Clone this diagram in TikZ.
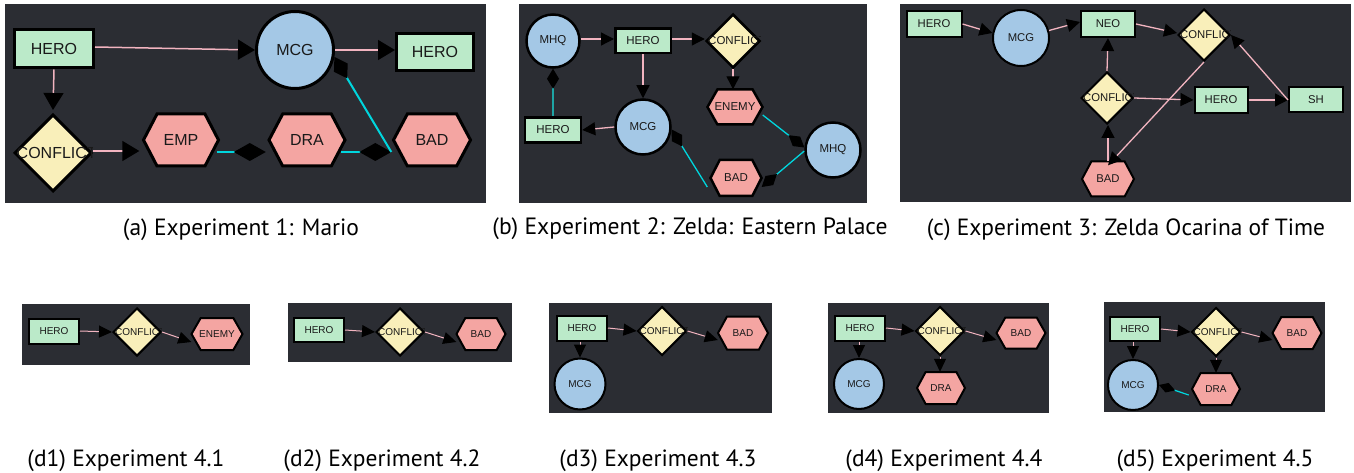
\documentclass[tikz,border=0pt]{standalone}
\usepackage{fontspec}
\usepackage{graphicx}
\newfontfamily\nodefont{Liberation Sans}
\newfontfamily\capfont{PT Sans}
\usetikzlibrary{shapes.geometric,arrows.meta}
\definecolor{bgc}{RGB}{43,45,51}
\definecolor{herog}{RGB}{187,234,201}
\definecolor{circb}{RGB}{164,200,230}
\definecolor{confy}{RGB}{249,239,186}
\definecolor{hexr}{RGB}{244,165,162}
\definecolor{pinkl}{RGB}{242,180,192}
\definecolor{cyanl}{RGB}{0,214,222}
\definecolor{tealc}{RGB}{30,165,165}
\definecolor{txt}{RGB}{25,25,25}
\tikzset{
  bw/.style={line width=2pt},
  lab/.style={font=\nodefont\fontsize{10}{10}\selectfont,text=txt},
  herob/.style={rectangle,draw=black,fill=herog,lab,inner sep=0pt,bw},
  circsty/.style={circle,draw=black,fill=circb,lab,inner sep=0pt,bw},
  confsty/.style={diamond,aspect=1,draw=black,fill=confy,inner sep=0pt,bw},
  hexsty/.style={draw=black,fill=hexr,bw},
  panel/.style={fill=bgc},
  capt/.style={inner sep=0pt,anchor=base,text=black},
  pk/.style={draw=pinkl,line width=1pt,-{Triangle[length=13pt,width=12pt,color=black]}},
  cy/.style={draw=cyanl,line width=1.2pt,-{Diamond[length=17pt,width=10pt,color=black]}},
}
\newcommand\hexnode[6]{%
  \draw[hexsty] ({#2-#4/2},#3) -- ({#2-0.32*#4},{#3-#5/2}) -- ({#2+0.32*#4},{#3-#5/2})
    -- ({#2+#4/2},#3) -- ({#2+0.32*#4},{#3+#5/2}) -- ({#2-0.32*#4},{#3+#5/2}) -- cycle;
  \node[lab,minimum width=#4pt,minimum height=#5pt,inner sep=0pt] (#1) at (#2,#3) {#6};}
\newcommand\confnode[4]{%
  \node[confsty,minimum width=#4pt,minimum height=#4pt] (#1) at (#2,#3) {};
  \begin{scope}
    \clip ({#2-#4/2-2},{#3-#4/2}) rectangle ({#2+#4/2+0.5},{#3+#4/2});
    \node[lab,anchor=west,inner sep=0pt] at ({#2-#4/2+2},#3) {CONFLICT};
  \end{scope}}
\begin{document}
\begin{tikzpicture}[x=1pt,y=-1pt]
\useasboundingbox (0,0) rectangle (1354,473);
\fill[white] (0,0) rectangle (1354,473);

% ---------------- (a)
\begin{scope}[bw/.style={line width=3pt},
  lab/.style={font=\nodefont\fontsize{16}{16}\selectfont,text=txt},
  pk/.style={draw=pinkl,line width=1.5pt,-{Triangle[length=17pt,width=20pt,color=black]}},
  cy/.style={draw=cyanl,line width=2pt,-{Diamond[length=32pt,width=18pt,color=black]}}]
\fill[panel] (5,4) rectangle (486,203);
\node[herob,minimum width=79pt,minimum height=38pt] (ah1) at (54,49) {HERO};
\node[circsty,minimum size=77pt] (amcg) at (295,50) {MCG};
\node[herob,minimum width=77pt,minimum height=37pt] (ah2) at (435,52) {HERO};
\confnode{aconf}{53}{153}{77}
\hexnode{aemp}{181}{140}{75}{52}{EMP}
\hexnode{adra}{307}{140}{76}{52}{DRA}
\hexnode{abad}{432}{140}{77}{52}{BAD}
\draw[pk] ([yshift=2pt]ah1.east) -- (amcg.west);
\draw[pk] (amcg.east) -- ([yshift=2pt]ah2.west);
\draw[pk] (ah1.south) -- ([yshift=3pt]aconf.north);
\draw[pk] ([yshift=2pt]aconf.east) -- ([xshift=-4pt,yshift=-11pt]aemp.west);
\draw[cy] ([xshift=-2pt,yshift=-12pt]aemp.east) -- ([xshift=-3pt,yshift=-12pt]adra.west);
\draw[cy] ([xshift=-4pt,yshift=-12pt]adra.east) -- ([xshift=-2pt,yshift=-12pt]abad.west);
\draw[cy,-{Diamond[length=25pt,width=16pt,color=black]}] ([xshift=-2pt,yshift=-12pt]abad.west) -- (amcg.-10);
\end{scope}

% ---------------- (b)
\begin{scope}[bw/.style={line width=2.5pt},
  lab/.style={font=\nodefont\fontsize{11.5}{11.5}\selectfont,text=txt},
  pk/.style={draw=pinkl,line width=1.3pt,-{Triangle[length=13pt,width=13pt,color=black]}},
  cy/.style={draw=cyanl,line width=1.3pt,-{Diamond[length=20pt,width=12pt,color=black]}}]
\fill[panel] (519,4) rectangle (867,203);
\node[circsty,minimum size=53pt] (bmhq1) at (553,41) {MHQ};
\node[herob,minimum width=55.5pt,minimum height=24.5pt] (bh1) at (643,41) {HERO};
\confnode{bconf}{733}{41}{54}
\hexnode{benemy}{735}{107}{55}{35}{ENEMY}
\node[circsty,minimum size=55pt] (bmcg) at (643,127) {MCG};
\node[herob,minimum width=56pt,minimum height=25pt] (bh2) at (553,130) {HERO};
\node[circsty,minimum size=55pt] (bmhq2) at (833,150) {MHQ};
\hexnode{bbad}{736}{178}{51}{36}{BAD}
\draw[pk] ([yshift=2pt]bmhq1.east) -- ([yshift=2pt]bh1.west);
\draw[pk] ([yshift=2pt]bh1.east) -- ([yshift=2pt]bconf.west);
\draw[pk] (bh1.south) -- (bmcg.north);
\draw[pk] (bconf.south) -- (bconf.south |- benemy.north);
\draw[pk] (bmcg.west) -- (bh2.east);
\draw[cy,draw=tealc] (bh2.north) -- (bmhq1.south);
\draw[cy] ([yshift=-8pt]benemy.east) -- (bmhq2.175);
\draw[cy] (bmhq2.182) -- ([yshift=-9pt]bbad.east);
\draw[cy] ([xshift=-3pt,yshift=-9pt]bbad.west) -- (bmcg.-5);
\end{scope}

% ---------------- (c)
\begin{scope}[bw/.style={line width=2pt},
  lab/.style={font=\nodefont\fontsize{11.3}{11.3}\selectfont,text=txt},
  pk/.style={draw=pinkl,line width=1.3pt,-{Triangle[length=13pt,width=13pt,color=black]}}]
\fill[panel] (900,4) rectangle (1351,202);
\node[herob,minimum width=55pt,minimum height=26pt] (ch1) at (934,24) {HERO};
\node[circsty,minimum size=56pt] (cmcg) at (1021,38) {MCG};
\node[herob,minimum width=54pt,minimum height=26pt] (cneo) at (1108,24) {NEO};
\confnode{cconf1}{1204}{35}{52}
\confnode{cconf2}{1107}{98}{52}
\node[herob,minimum width=53pt,minimum height=26pt] (ch2) at (1221,100) {HERO};
\node[herob,minimum width=54pt,minimum height=25pt] (csh) at (1316,100) {SH};
\hexnode{cbad}{1108}{179}{52}{35}{BAD}
\draw[pk] (ch1.east) -- (cmcg.170);
\draw[pk] (cmcg.15) -- ([yshift=2pt]cneo.west);
\draw[pk] (cneo.east) -- ([yshift=2pt]cconf1.west);
\draw[pk] (cconf2.north) -- (cneo.south);
\draw[pk] (cbad.north) -- (cbad.north |- cconf2.south);
\draw[pk] (cconf2.east) -- (ch2.west);
\draw[pk] (ch2.east) -- (csh.west);
\draw[pk] (csh.west) -- (cconf1.east);
\draw[pk] (cconf1.south) -- ([yshift=-4pt]cbad.north);
\end{scope}

% ---------------- (d1)
\fill[panel] (22,304) rectangle (250,365);
\node[herob,minimum width=50pt,minimum height=25pt] (d1h) at (54,331) {HERO};
\confnode{d1c}{137}{332}{48}
\hexnode{d1e}{217}{334}{51}{32}{ENEMY}
\draw[pk] (d1h.east) -- (d1c.west);
\draw[pk] (d1c.east) -- ([yshift=-8pt]d1e.west);

% ---------------- (d2)
\fill[panel] (288,303) rectangle (512,362);
\node[herob,minimum width=50pt,minimum height=24pt] (d2h) at (319,330) {HERO};
\confnode{d2c}{400}{332}{48}
\hexnode{d2b}{481}{334}{49}{32}{BAD}
\draw[pk] (d2h.east) -- (d2c.west);
\draw[pk] (d2c.east) -- ([yshift=-8pt]d2b.west);

% ---------------- (d3)
\fill[panel] (549,303) rectangle (772,413);
\node[herob,minimum width=50pt,minimum height=25pt] (d3h) at (582,328) {HERO};
\confnode{d3c}{662}{331}{49}
\hexnode{d3b}{743}{333}{50}{33}{BAD}
\node[circsty,minimum size=51pt] (d3m) at (580,384) {MCG};
\draw[pk] (d3h.east) -- (d3c.west);
\draw[pk] (d3c.east) -- ([yshift=-7pt]d3b.west);
\draw[pk] (d3m.north |- d3h.south) -- (d3m.north);

% ---------------- (d4)
\fill[panel] (828,303) rectangle (1049,413);
\node[herob,minimum width=50pt,minimum height=25pt] (d4h) at (860,328) {HERO};
\confnode{d4c}{940}{331}{49}
\hexnode{d4b}{1021}{333}{49}{31}{BAD}
\node[circsty,minimum size=50pt] (d4m) at (859,384) {MCG};
\hexnode{d4d}{941}{388}{48}{32}{DRA}
\draw[pk] (d4h.east) -- (d4c.west);
\draw[pk] (d4c.east) -- ([yshift=-7pt]d4b.west);
\draw[pk] (d4m.north |- d4h.south) -- (d4m.north);
\draw[pk] (d4c.south) -- (d4c.south |- d4d.north);

% ---------------- (d5)
\fill[panel] (1104,302) rectangle (1325,412);
\node[herob,minimum width=50pt,minimum height=24pt] (d5h) at (1135,329) {HERO};
\confnode{d5c}{1216}{332}{49}
\hexnode{d5b}{1297}{333}{49}{32}{BAD}
\node[circsty,minimum size=50pt] (d5m) at (1133,385) {MCG};
\hexnode{d5d}{1216}{389}{48}{32}{DRA}
\draw[pk] (d5h.east) -- (d5c.west);
\draw[pk] (d5c.east) -- ([yshift=-7pt]d5b.west);
\draw[pk] (d5m.north |- d5h.south) -- (d5m.north);
\draw[pk] (d5c.south) -- (d5c.south |- d5d.north);
\draw[cy] ([xshift=-3pt,yshift=-6pt]d5d.west) -- (d5m.east);

% ---------------- captions
\node[capt] (capa) at (241,235) {\resizebox{236pt}{!}{\capfont (a) Experiment 1: Mario}};
\node[capt] (capb) at (690,235) {\resizebox{395pt}{!}{\capfont (b) Experiment 2: Zelda: Eastern Palace}};
\node[capt] (capc) at (1126,235) {\resizebox{398pt}{!}{\capfont (c) Experiment 3: Zelda Ocarina of Time}};
\node[capt] (capd1) at (126,466) {\resizebox{197pt}{!}{\capfont (d1) Experiment 4.1}};
\node[capt] (capd2) at (382,466) {\resizebox{197pt}{!}{\capfont (d2) Experiment 4.2}};
\node[capt] (capd3) at (658,466) {\resizebox{197pt}{!}{\capfont (d3) Experiment 4.3}};
\node[capt] (capd4) at (944,466) {\resizebox{197pt}{!}{\capfont (d4) Experiment 4.4}};
\node[capt] (capd5) at (1215,466) {\resizebox{197pt}{!}{\capfont (d5) Experiment 4.5}};
\end{tikzpicture}
\end{document}
